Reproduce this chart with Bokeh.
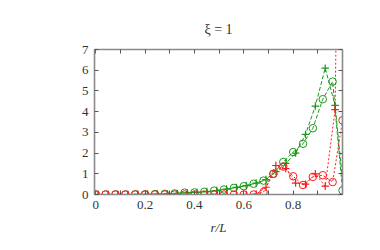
from bokeh.plotting import figure
from bokeh.models import Range1d, LinearAxis, FixedTicker
from bokeh.embed import file_html
from bokeh.resources import INLINE

# ---- data ----
r_circ = [0.00, 0.04, 0.08, 0.12, 0.16, 0.20, 0.24, 0.28, 0.32, 0.36, 0.40, 0.44, 0.48,
          0.52, 0.56, 0.60, 0.64, 0.68, 0.72, 0.76, 0.80, 0.84, 0.88, 0.92, 0.96, 1.00]
green_circ = [0.0, 0.0, 0.0, 0.0, 0.01, 0.01, 0.02, 0.03, 0.05, 0.09, 0.10, 0.13, 0.19,
              0.24, 0.32, 0.40, 0.52, 0.67, 1.00, 1.57, 2.05, 2.45, 3.20, 4.60, 5.45, 0.20]
r_circ_red = r_circ + [1.04]
red_circ = [0.0, 0.0, 0.0, 0.0, 0.0, 0.0, 0.0, 0.0, 0.0, 0.0, 0.0, 0.0, 0.0,
            0.0, 0.0, 0.0, 0.0, 0.12, 1.00, 1.35, 0.88, 0.46, 0.85, 0.93, 0.60, 3.58, 60.0]

r_plus = [0.01, 0.05, 0.09, 0.13, 0.17, 0.21, 0.25, 0.29, 0.33, 0.37, 0.41, 0.45, 0.49,
          0.53, 0.57, 0.61, 0.65, 0.69, 0.73, 0.77, 0.81, 0.85, 0.89, 0.93, 0.97, 1.01]
green_plus = [0.0, 0.0, 0.0, 0.0, 0.01, 0.01, 0.02, 0.03, 0.05, 0.08, 0.10, 0.14, 0.19,
              0.26, 0.34, 0.43, 0.55, 0.72, 1.10, 1.50, 2.00, 2.90, 4.27, 6.10, 4.30, -0.5]
red_plus = [0.0, 0.0, 0.0, 0.0, 0.0, 0.0, 0.0, 0.0, 0.0, 0.0, 0.0, 0.0, 0.0,
            0.0, 0.0, 0.0, 0.02, 0.35, 1.40, 1.25, 0.55, 0.50, 1.00, 0.40, 4.10, 40.0]

x_major = [0, 0.2, 0.4, 0.6, 0.8]
x_minor = [0.1, 0.3, 0.5, 0.7, 0.9]
y_ticks = [0, 1, 2, 3, 4, 5, 6, 7]

GREEN = "#1a9a1a"
RED = "#ff1a1a"
FRAME = "#8a8a8a"
TICK = "#555555"
FONT = "'Liberation Serif', 'Times New Roman', serif"

p = figure(width=372, height=242, output_backend="svg", toolbar_location=None,
           x_range=Range1d(-0.005, 1.0), y_range=Range1d(0, 7),
           min_border_left=94, min_border_right=30, min_border_top=49, min_border_bottom=48,
           x_axis_label="r/L", title="ξ = 1")
p.xgrid.visible = False
p.ygrid.visible = False
p.outline_line_color = None
p.background_fill_color = "white"
p.border_fill_color = "white"

p.title.align = "center"
p.title.text_font = FONT
p.title.text_font_size = "14px"
p.title.text_font_style = "normal"
p.title.text_color = "#333333"
p.title.standoff = 25
p.title.offset = 4

bottom = p.below[0]
left = p.left[0]
right = LinearAxis()
above = LinearAxis()
p.add_layout(right, "right")
p.add_layout(above, "above")

for ax in [bottom, above]:
    ax.ticker = FixedTicker(ticks=x_major, minor_ticks=x_minor)
for ax in [left, right]:
    ax.ticker = FixedTicker(ticks=y_ticks, minor_ticks=[])

for ax in [bottom, left, right, above]:
    ax.axis_line_color = FRAME
    ax.axis_line_width = 1.6
    ax.major_tick_in = 4
    ax.major_tick_out = 0
    ax.minor_tick_in = 4
    ax.minor_tick_out = 0
    ax.major_tick_line_color = TICK
    ax.minor_tick_line_color = TICK
    ax.major_label_text_font = FONT
    ax.major_label_text_font_size = "13px"
    ax.major_label_text_color = "#333333"
    ax.major_label_standoff = 6

for ax in [right, above]:
    ax.major_label_text_color = None
    ax.major_label_text_font_size = "0px"
    ax.major_label_standoff = 0

bottom.axis_label_text_font = FONT
bottom.axis_label_text_font_style = "italic"
bottom.axis_label_text_font_size = "13px"
bottom.axis_label_text_color = "#333333"
bottom.axis_label_standoff = 8

# green series
p.line(r_circ, green_circ, line_color=GREEN, line_width=1, line_dash="4 2")
p.scatter(r_circ, green_circ, marker="circle", size=7.5, fill_color=None, line_color=GREEN, line_width=1)
p.line(r_plus, green_plus, line_color=GREEN, line_width=1, line_dash="4 2")
p.scatter(r_plus, green_plus, marker="cross", size=7.5, line_color=GREEN, line_width=1.2)

# red series
p.line(r_circ_red, red_circ, line_color=RED, line_width=1, line_dash="2 2")
p.scatter(r_circ_red, red_circ, marker="circle", size=7.5, fill_color=None, line_color=RED, line_width=1)
p.line(r_plus, red_plus, line_color=RED, line_width=1, line_dash="2 2")
p.scatter(r_plus, red_plus, marker="cross", size=7.5, line_color=RED, line_width=1.2)

open("out.html", "w").write(file_html(p, INLINE))
